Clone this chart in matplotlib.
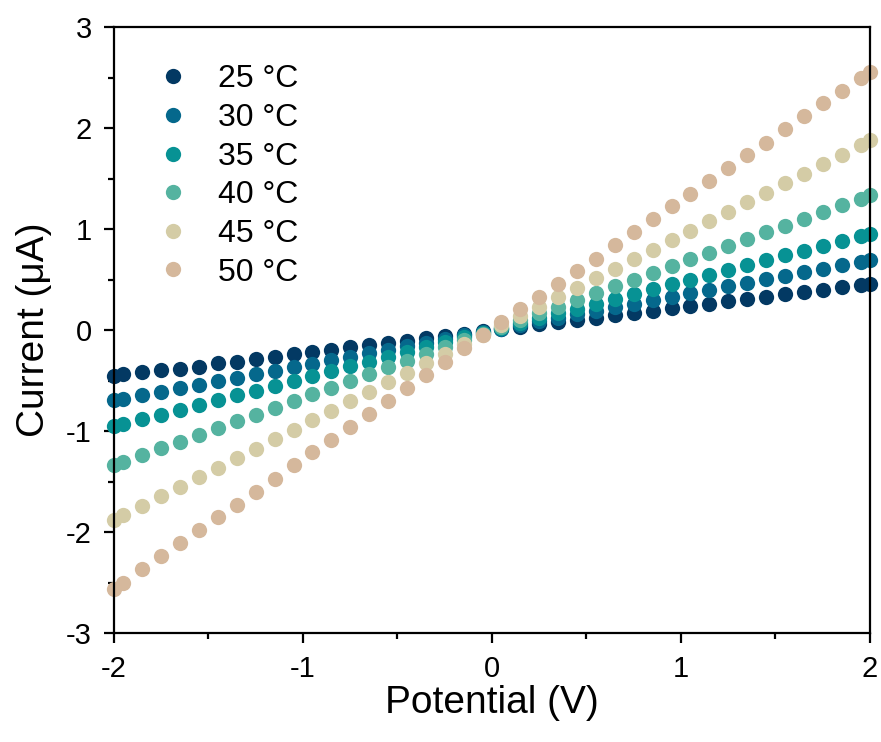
import matplotlib
matplotlib.use('Agg')
import matplotlib.pyplot as plt
from matplotlib.ticker import MultipleLocator

plt.rcParams['font.family'] = ['Liberation Sans', 'DejaVu Sans']
plt.rcParams['axes.unicode_minus'] = False

# ── Data ─────────────────────────────────────────────────────────────────────
potential = [-2.0, -1.95, -1.85, -1.75, -1.65, -1.55, -1.45, -1.35, -1.25, -1.15,
             -1.05, -0.95, -0.85, -0.75, -0.65, -0.55, -0.45, -0.35, -0.25, -0.15,
             -0.05, 0.05, 0.15, 0.25, 0.35, 0.45, 0.55, 0.65, 0.75, 0.85,
             0.95, 1.05, 1.15, 1.25, 1.35, 1.45, 1.55, 1.65, 1.75, 1.85,
             1.95, 2.0]

i_25 = [-0.453, -0.433, -0.416, -0.393, -0.381, -0.361, -0.327, -0.311, -0.287, -0.262,
        -0.235, -0.215, -0.193, -0.170, -0.148, -0.125, -0.102, -0.080, -0.057, -0.034,
        -0.011, 0.011, 0.034, 0.057, 0.080, 0.103, 0.126, 0.149, 0.172, 0.195,
        0.218, 0.240, 0.263, 0.286, 0.309, 0.332, 0.355, 0.378, 0.401, 0.424,
        0.447, 0.458]
i_30 = [-0.693, -0.679, -0.644, -0.609, -0.574, -0.539, -0.505, -0.470, -0.435, -0.400,
        -0.365, -0.331, -0.296, -0.261, -0.226, -0.191, -0.157, -0.122, -0.087, -0.052,
        -0.017, 0.017, 0.052, 0.087, 0.122, 0.157, 0.191, 0.226, 0.261, 0.296,
        0.331, 0.365, 0.400, 0.435, 0.470, 0.505, 0.539, 0.574, 0.609, 0.644,
        0.679, 0.696]
i_35 = [-0.950, -0.932, -0.884, -0.837, -0.789, -0.741, -0.693, -0.645, -0.598, -0.550,
        -0.502, -0.454, -0.406, -0.359, -0.311, -0.263, -0.215, -0.167, -0.120, -0.072,
        -0.024, 0.024, 0.072, 0.120, 0.167, 0.215, 0.263, 0.311, 0.359, 0.406,
        0.454, 0.502, 0.550, 0.598, 0.645, 0.693, 0.741, 0.789, 0.837, 0.884,
        0.932, 0.958]
i_40 = [-1.336, -1.305, -1.238, -1.171, -1.104, -1.037, -0.970, -0.903, -0.836, -0.769,
        -0.702, -0.636, -0.569, -0.502, -0.435, -0.368, -0.301, -0.234, -0.167, -0.100,
        -0.033, 0.033, 0.100, 0.167, 0.234, 0.301, 0.368, 0.435, 0.502, 0.569,
        0.636, 0.702, 0.769, 0.836, 0.903, 0.970, 1.037, 1.104, 1.171, 1.238,
        1.305, 1.340]
i_45 = [-1.876, -1.833, -1.739, -1.645, -1.551, -1.457, -1.363, -1.269, -1.175, -1.081,
        -0.987, -0.893, -0.799, -0.705, -0.611, -0.517, -0.423, -0.329, -0.235, -0.141,
        -0.047, 0.047, 0.141, 0.235, 0.329, 0.423, 0.517, 0.611, 0.705, 0.799,
        0.893, 0.987, 1.081, 1.175, 1.269, 1.363, 1.457, 1.551, 1.645, 1.739,
        1.833, 1.885]
i_50 = [-2.56, -2.50, -2.37, -2.24, -2.11, -1.98, -1.85, -1.73, -1.60, -1.47,
        -1.34, -1.21, -1.09, -0.96, -0.83, -0.70, -0.57, -0.44, -0.31, -0.18,
        -0.05, 0.08, 0.21, 0.33, 0.46, 0.59, 0.71, 0.84, 0.97, 1.10,
        1.23, 1.35, 1.48, 1.61, 1.74, 1.86, 1.99, 2.12, 2.25, 2.37,
        2.50, 2.56]

labels = ['25 °C', '30 °C', '35 °C', '40 °C', '45 °C', '50 °C']
colors = ['#033963', '#05688c', '#079294', '#55b3a0', '#d4cca6', '#d5b89c']
series = [i_25, i_30, i_35, i_40, i_45, i_50]
# ─────────────────────────────────────────────────────────────────────────────

fig = plt.figure(figsize=(8.81, 7.42), dpi=100)
ax = fig.add_axes([0.1294, 0.1469, 0.8581, 0.8161])

for y, c, lab in zip(series, colors, labels):
    ax.plot(potential, y, 'o', color=c, markersize=11, markeredgewidth=0,
            label=lab, clip_on=False, zorder=2)

ax.set_xlim(-2, 2)
ax.set_ylim(-3, 3)
ax.xaxis.set_major_locator(MultipleLocator(1))
ax.xaxis.set_minor_locator(MultipleLocator(0.5))
ax.yaxis.set_major_locator(MultipleLocator(1))
ax.yaxis.set_minor_locator(MultipleLocator(0.5))

for sp in ax.spines.values():
    sp.set_linewidth(1.6)
ax.tick_params(which='major', direction='out', length=7, width=1.6,
               labelsize=21, pad=9)
ax.tick_params(which='minor', direction='out', length=4, width=1.6)
ax.tick_params(top=False, right=False, which='both')

ax.set_xlabel('Potential (V)', fontsize=28, labelpad=1)
ax.set_ylabel('Current (\u03bcA)', fontsize=28, labelpad=10)

ax.legend(loc='upper left', bbox_to_anchor=(0.04, 0.96), frameon=False,
          fontsize=23, handlelength=1.0, handletextpad=0.9, labelspacing=0.27,
          borderaxespad=0)

fig.savefig('out.png', dpi=100)
